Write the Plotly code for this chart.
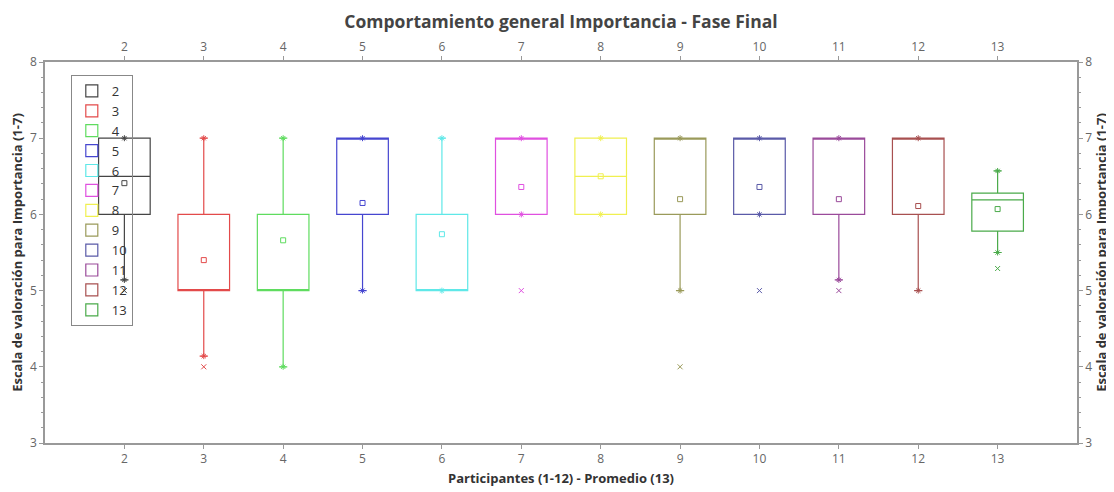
import plotly.graph_objects as go

# ---- data ----
participants = [2, 3, 4, 5, 6, 7, 8, 9, 10, 11, 12, 13]
q1 = [6, 5, 5, 6, 5, 6, 6, 6, 6, 6, 6, 5.78]
medians = [6.5, 5, 5, 7, 5, 7, 6.5, 7, 7, 7, 7, 6.19]
q3 = [7, 6, 6, 7, 6, 7, 7, 7, 7, 7, 7, 6.28]
lower_whisker = [5.14, 4.14, 4, 5, 5, 6, 6, 5, 6, 5.14, 5, 5.50]
upper_whisker = [7, 7, 7, 7, 7, 7, 7, 7, 7, 7, 7, 6.57]
means = [6.41, 5.40, 5.66, 6.15, 5.74, 6.36, 6.50, 6.20, 6.36, 6.20, 6.11, 6.07]
outlier_x = [2, 3, 7, 9, 10, 11, 13]
outlier_y = [5, 4, 5, 4, 5, 5, 5.29]
colors = ["#454545", "#e34a4a", "#5fdc5f", "#4646d0", "#5fe8e8", "#e050e0",
          "#f0f050", "#9a9a5a", "#5a5aa8", "#9a4a9a", "#a85050", "#4aaa4a"]

title_text = "Comportamiento general Importancia - Fase Final"
x_title = "Participantes (1-12) - Promedio (13)"
y_title = "Escala de valoración para Importancia (1-7)"

fig = go.Figure()
color_of = dict(zip(participants, colors))

for i, p in enumerate(participants):
    fig.add_trace(go.Box(
        x=[p], q1=[q1[i]], median=[medians[i]], q3=[q3[i]],
        lowerfence=[lower_whisker[i]], upperfence=[upper_whisker[i]],
        name=str(p), width=0.65, whiskerwidth=0.16, boxpoints=False,
        fillcolor="rgba(255,255,255,0)",
        line=dict(color=colors[i], width=1.2),
        hoverinfo="skip",
    ))

# whisker end marks
for i, p in enumerate(participants):
    fig.add_trace(go.Scatter(
        x=[p, p], y=[upper_whisker[i], lower_whisker[i]], mode="markers",
        marker=dict(symbol="asterisk-open", size=5, color=colors[i],
                    line=dict(color=colors[i], width=1)),
        showlegend=False, hoverinfo="skip"))

# means
fig.add_trace(go.Scatter(
    x=participants, y=means, mode="markers",
    marker=dict(symbol="square-open", size=5, color=colors, line=dict(color=colors, width=1)),
    showlegend=False, hoverinfo="skip"))

# outliers
out_colors = [color_of[v] for v in outlier_x]
fig.add_trace(go.Scatter(
    x=outlier_x, y=outlier_y, mode="markers",
    marker=dict(symbol="x-thin-open", size=5, color=out_colors,
                line=dict(color=out_colors, width=1)),
    showlegend=False, hoverinfo="skip"))

# dummy trace for mirrored axes
fig.add_trace(go.Scatter(x=[None], y=[None], xaxis="x2", yaxis="y2",
                         showlegend=False, hoverinfo="skip"))

tick_font = dict(family="Open Sans", size=12, color="#666")
title_font = dict(family="Open Sans", size=13, color="#333", weight="bold")
axis_common = dict(showline=True, linecolor="#999", linewidth=1.5, ticks="outside",
                   ticklen=4, tickcolor="#999", showgrid=False, zeroline=False,
                   tickfont=tick_font, automargin=False)

# page body has an 8px margin, so the figure is 8px smaller than the window
fig.update_layout(
    width=1106, height=484,
    margin=dict(l=37, r=37, t=54, b=49),
    paper_bgcolor="white", plot_bgcolor="white",
    boxmode="overlay",
    title=dict(text=title_text, x=0.5, xanchor="center", y=1 - 14 / 484, yanchor="middle",
               font=dict(family="Open Sans", size=17.5, color="#444", weight="bold")),
    xaxis=dict(range=[1, 14], tickvals=participants, **axis_common,
               title=dict(text=x_title, font=title_font, standoff=8)),
    xaxis2=dict(range=[1, 14], tickvals=participants, overlaying="x", side="top",
                **axis_common),
    yaxis=dict(range=[3, 8], dtick=1, **axis_common,
               minor=dict(dtick=0.2, ticks="outside", ticklen=2, tickcolor="#999"),
               title=dict(text=y_title, font=title_font, standoff=4)),
    yaxis2=dict(range=[3, 8], dtick=1, overlaying="y", side="right", **axis_common,
                minor=dict(dtick=0.2, ticks="outside", ticklen=2, tickcolor="#999"),
                title=dict(text=y_title, font=title_font, standoff=5)),
    legend=dict(x=0.025, y=0.966, xanchor="left", yanchor="top",
                bgcolor="rgba(0,0,0,0)", bordercolor="#888", borderwidth=1,
                font=dict(family="Open Sans", size=13, color="#333"),
                itemwidth=30, tracegroupgap=0),
)

fig.write_html("out.html")
